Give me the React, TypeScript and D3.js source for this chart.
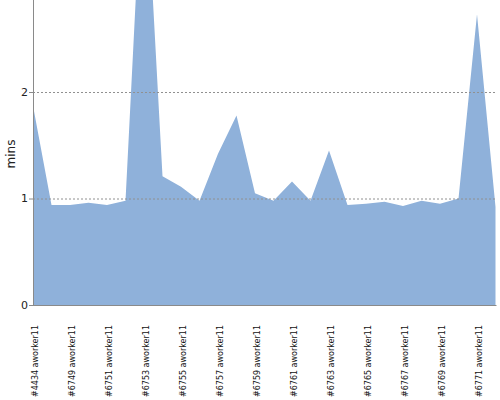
import React from "react";
import * as d3 from "d3";

const categories: string[] = [
  "#4434 aworker11", "#6748 aworker11", "#6749 aworker11", "#6750 aworker11",
  "#6751 aworker11", "#6752 aworker11", "#6753 aworker11", "#6754 aworker11",
  "#6755 aworker11", "#6756 aworker11", "#6757 aworker11", "#6758 aworker11",
  "#6759 aworker11", "#6760 aworker11", "#6761 aworker11", "#6762 aworker11",
  "#6763 aworker11", "#6764 aworker11", "#6765 aworker11", "#6766 aworker11",
  "#6767 aworker11", "#6768 aworker11", "#6769 aworker11", "#6770 aworker11",
  "#6771 aworker11", "#6772 aworker11",
];
const values: number[] = [
  1.87, 0.94, 0.94, 0.96, 0.94, 0.98, 4.4, 1.21, 1.11, 0.98,
  1.42, 1.78, 1.05, 0.98, 1.16, 0.98, 1.45, 0.94, 0.95, 0.97,
  0.93, 0.98, 0.95, 1.0, 2.73, 0.92,
];
const yTicks: number[] = [0, 1, 2];
const xLabelEvery = 2;
const yLabel = "mins";

export default function App() {
  const W = 500, H = 400;
  const left = 33, right = 495.5, bottom = 305, top = 0;
  const x = d3.scalePoint<string>().domain(categories).range([left, right]);
  const y = d3.scaleLinear().domain([0, 2.864]).range([bottom, top]);
  const area = d3.area<number>()
    .x((_, i) => x(categories[i]) as number)
    .y0(y(0))
    .y1((d) => y(d));
  const axisColor = "#8a8a8a";
  return (
    <svg width={W} height={H} style={{ position: "absolute", left: 0, top: 0 }}>
      <defs>
        <clipPath id="plot">
          <rect x={left} y={top} width={right - left + 1} height={bottom - top} />
        </clipPath>
      </defs>
      <path d={area(values) || ""} fill="#8fb1da" clipPath="url(#plot)" />
      {yTicks.filter((t) => t > 0).map((t) => (
        <line key={"g" + t} x1={left} x2={right + 1} y1={y(t) + 0.5} y2={y(t) + 0.5}
          stroke="#909090" strokeDasharray="2,2" strokeWidth={1} />
      ))}
      <line x1={left + 0.5} x2={left + 0.5} y1={0} y2={bottom} stroke={axisColor} />
      <line x1={left} x2={right + 1} y1={bottom + 0.5} y2={bottom + 0.5} stroke={axisColor} />
      {yTicks.map((t) => (
        <g key={"t" + t}>
          <line x1={left - 4} x2={left} y1={y(t) + 0.5} y2={y(t) + 0.5} stroke={axisColor} />
          <text x={left - 5} y={y(t)} textAnchor="end" dominantBaseline="central"
            fontFamily="DejaVu Sans" fontSize={11} fill="#222">{t}</text>
        </g>
      ))}
      <text transform={`translate(11,${154}) rotate(-90)`} textAnchor="middle"
        dominantBaseline="central" fontFamily="DejaVu Sans" fontSize={12} fill="#222">{yLabel}</text>
      {categories.map((c, i) => i % xLabelEvery === 0 ? (
        <text key={c} transform={`translate(${(x(c) as number) + 2},${bottom + 20}) rotate(-90)`}
          textAnchor="end" dominantBaseline="central" fontFamily="DejaVu Sans" fontSize={8}
          fill="#111">{c}</text>
      ) : null)}
    </svg>
  );
}
